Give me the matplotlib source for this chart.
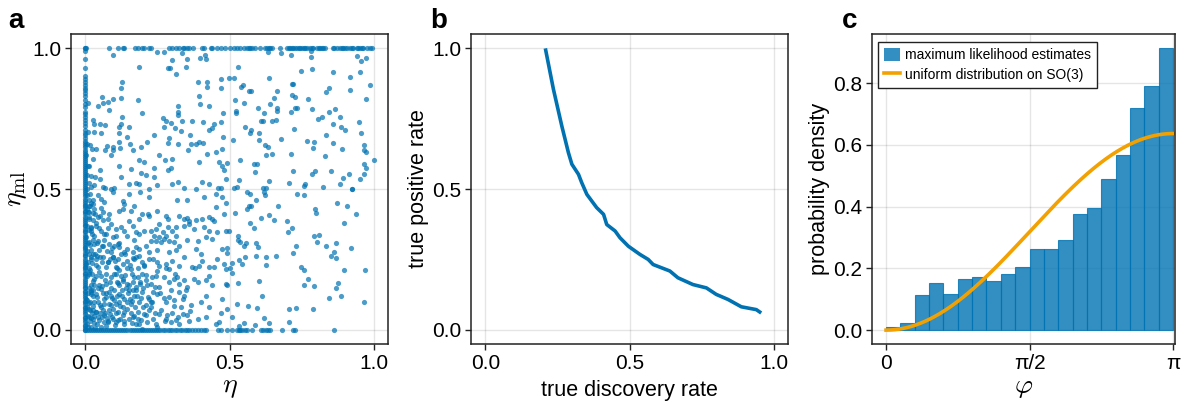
import numpy as np
import matplotlib.pyplot as plt
from matplotlib.patches import Patch
from matplotlib.lines import Line2D

## =========================================================================
## Data

# panel a: points lying on eta = 0 (values of eta_ml)
strip_ml = [0.0, 0.006, 0.013, 0.019, 0.027, 0.034, 0.041, 0.047, 0.056, 0.062, 0.07, 0.077,
            0.083, 0.091, 0.098, 0.104, 0.112, 0.119, 0.126, 0.133, 0.139, 0.147, 0.154, 0.161,
            0.168, 0.175, 0.182, 0.19, 0.197, 0.203, 0.211, 0.218, 0.224, 0.232, 0.239, 0.246,
            0.253, 0.261, 0.267, 0.274, 0.282, 0.289, 0.295, 0.303, 0.31, 0.317, 0.324, 0.331,
            0.338, 0.346, 0.352, 0.359, 0.367, 0.374, 0.381, 0.388, 0.395, 0.402, 0.41, 0.417,
            0.423, 0.431, 0.438, 0.445, 0.452, 0.459, 0.466, 0.474, 0.481, 0.488, 0.495, 0.503,
            0.51, 0.517, 0.524, 0.531, 0.538, 0.545, 0.553, 0.56, 0.567, 0.574, 0.582, 0.589,
            0.596, 0.603, 0.611, 0.618, 0.625, 0.632, 0.64, 0.648, 0.655, 0.662, 0.671, 0.68,
            0.69, 0.70, 0.71, 0.725, 0.735, 0.745, 0.755, 0.765, 0.775, 0.79, 0.80, 0.815, 0.83,
            0.84, 0.85, 0.86, 0.87, 0.88, 0.89, 0.9, 0.93, 0.96, 0.99, 1.0]

# panel a: points lying on eta_ml = 0 (values of eta)
bottom_eta = [0.0, 0.007, 0.013, 0.02, 0.027, 0.034, 0.041, 0.048, 0.055, 0.062, 0.069, 0.076,
              0.083, 0.09, 0.097, 0.104, 0.111, 0.118, 0.125, 0.132, 0.139, 0.146, 0.153, 0.16,
              0.167, 0.174, 0.181, 0.188, 0.195, 0.202, 0.209, 0.216, 0.223, 0.23, 0.237, 0.245,
              0.252, 0.26, 0.268, 0.276, 0.285, 0.293, 0.302, 0.31, 0.318, 0.327, 0.335, 0.344,
              0.352, 0.36, 0.37, 0.38, 0.39, 0.40, 0.41, 0.42, 0.46, 0.47, 0.491, 0.509, 0.526,
              0.532, 0.537, 0.543, 0.555, 0.561, 0.578, 0.61, 0.616, 0.627, 0.633, 0.639, 0.682,
              0.722, 0.728, 0.864]

# panel a: points lying on eta_ml = 1 (values of eta)
top_eta = [0.0, 0.002, 0.081, 0.112, 0.129, 0.135, 0.173, 0.181, 0.198, 0.204, 0.221, 0.227,
           0.291, 0.302, 0.314, 0.325, 0.337, 0.343, 0.354, 0.36, 0.375, 0.404, 0.412, 0.435,
           0.44, 0.458, 0.469, 0.484, 0.503, 0.514, 0.526, 0.537, 0.549, 0.56, 0.566, 0.572,
           0.578, 0.589, 0.607, 0.624, 0.63, 0.636, 0.641, 0.647, 0.674, 0.699, 0.705, 0.711,
           0.716, 0.722, 0.728, 0.734, 0.74, 0.745, 0.751, 0.757, 0.762, 0.768, 0.78, 0.786,
           0.791, 0.803, 0.809, 0.814, 0.82, 0.826, 0.832, 0.858, 0.863, 0.872, 0.884, 0.889,
           0.895, 0.901, 0.907, 0.918, 0.924, 0.93, 0.941, 0.947, 0.953, 0.959, 0.964, 0.976,
           0.988, 0.993]

# panel a: scattered (eta, eta_ml) pairs
upper_left = [(0.095, 0.976), (0.25, 0.985), (0.271, 0.985), (0.299, 0.958), (0.334, 0.981),
              (0.354, 0.963), (0.348, 0.932), (0.285, 0.928), (0.294, 0.928), (0.314, 0.908),
              (0.415, 0.975), (0.417, 0.961), (0.398, 0.965), (0.185, 0.934), (0.127, 0.879),
              (0.123, 0.859), (0.389, 0.881), (0.421, 0.879), (0.472, 0.89), (0.421, 0.861),
              (0.472, 0.857), (0.057, 0.828), (0.095, 0.82), (0.062, 0.804), (0.077, 0.808),
              (0.123, 0.823), (0.181, 0.816), (0.01, 0.804), (0.043, 0.793), (0.083, 0.781),
              (0.196, 0.77), (0.127, 0.757), (0.394, 0.829), (0.398, 0.8), (0.429, 0.796),
              (0.32, 0.793), (0.323, 0.775), (0.323, 0.763), (0.477, 0.77), (0.025, 0.746),
              (0.031, 0.731), (0.052, 0.731), (0.069, 0.726), (0.123, 0.731), (0.115, 0.72),
              (0.268, 0.751), (0.279, 0.74), (0.296, 0.734), (0.334, 0.74), (0.371, 0.743),
              (0.408, 0.737), (0.446, 0.729), (0.472, 0.737), (0.15, 0.72), (0.273, 0.72),
              (0.031, 0.704), (0.054, 0.698), (0.115, 0.698), (0.311, 0.716), (0.331, 0.706),
              (0.429, 0.708), (0.44, 0.716), (0.143, 0.684), (0.239, 0.69), (0.29, 0.681),
              (0.362, 0.693), (0.479, 0.684), (0.115, 0.667), (0.154, 0.661), (0.212, 0.666),
              (0.288, 0.664), (0.323, 0.658), (0.366, 0.658), (0.383, 0.658), (0.394, 0.667),
              (0.408, 0.663), (0.074, 0.654), (0.095, 0.649), (0.12, 0.645), (0.037, 0.643),
              (0.022, 0.642), (0.193, 0.649), (0.357, 0.637), (0.069, 0.637), (0.095, 0.637),
              (0.164, 0.637), (0.475, 0.643), (0.089, 0.62), (0.256, 0.622), (0.421, 0.625),
              (0.454, 0.631), (0.187, 0.602), (0.204, 0.596), (0.276, 0.604), (0.302, 0.605),
              (0.394, 0.596), (0.464, 0.596), (0.118, 0.583), (0.158, 0.572), (0.239, 0.575),
              (0.285, 0.567), (0.296, 0.575), (0.475, 0.581), (0.481, 0.567), (0.051, 0.567),
              (0.193, 0.557), (0.21, 0.549), (0.239, 0.543), (0.32, 0.525), (0.302, 0.516),
              (0.343, 0.502), (0.406, 0.525), (0.429, 0.519), (0.469, 0.505), (0.487, 0.537),
              (0.123, 0.541), (0.15, 0.519), (0.175, 0.522), (0.187, 0.519), (0.25, 0.514),
              (0.1, 0.502), (0.06, 0.508), (0.031, 0.514), (0.02, 0.545), (0.051, 0.534)]

upper_right = [(0.633, 0.985), (0.679, 0.981), (0.714, 0.976), (0.783, 0.988), (0.783, 0.967),
               (0.529, 0.934), (0.941, 0.971), (0.956, 0.955), (0.974, 0.965), (0.785, 0.926),
               (0.747, 0.918), (0.858, 0.914), (0.952, 0.916), (0.497, 0.893), (0.514, 0.893),
               (0.638, 0.893), (0.918, 0.896), (0.547, 0.869), (0.541, 0.861), (0.566, 0.849),
               (0.574, 0.849), (0.664, 0.846), (0.716, 0.873), (0.72, 0.873), (0.847, 0.857),
               (0.834, 0.843), (0.918, 0.853), (0.988, 0.869), (0.716, 0.834), (0.728, 0.826),
               (0.653, 0.822), (0.771, 0.82), (0.52, 0.816), (0.974, 0.82), (0.551, 0.804),
               (0.639, 0.8), (0.598, 0.788), (0.666, 0.788), (0.728, 0.788), (0.734, 0.788),
               (0.785, 0.784), (0.866, 0.784), (0.524, 0.777), (0.523, 0.77), (0.62, 0.77),
               (0.664, 0.778), (0.714, 0.775), (0.847, 0.775), (0.82, 0.755), (0.807, 0.747),
               (0.884, 0.754), (0.61, 0.743), (0.616, 0.743), (0.649, 0.741), (0.662, 0.746),
               (0.95, 0.737), (0.86, 0.729), (0.888, 0.721), (0.901, 0.711), (0.553, 0.719),
               (0.574, 0.711), (0.57, 0.7), (0.724, 0.714), (0.601, 0.7), (0.835, 0.69),
               (0.958, 0.698), (0.511, 0.673), (0.601, 0.675), (0.678, 0.678), (0.77, 0.671),
               (0.793, 0.667), (0.858, 0.662), (0.966, 0.657), (0.622, 0.657), (0.633, 0.649),
               (0.789, 0.645), (0.891, 0.642), (0.966, 0.637), (0.974, 0.631), (0.491, 0.592),
               (0.535, 0.604), (0.626, 0.62), (0.647, 0.623), (0.715, 0.623), (0.83, 0.616),
               (1.0, 0.604), (0.584, 0.587), (0.596, 0.587), (0.966, 0.587), (0.974, 0.576),
               (0.589, 0.561), (0.722, 0.564), (0.795, 0.564), (0.785, 0.552), (0.851, 0.564),
               (0.915, 0.552), (0.966, 0.555), (0.893, 0.539), (0.953, 0.536), (0.532, 0.531),
               (0.638, 0.529), (0.707, 0.522), (0.762, 0.516), (0.76, 0.512), (0.884, 0.519),
               (0.514, 0.502), (0.526, 0.508), (0.615, 0.502), (0.626, 0.502), (0.823, 0.508),
               (0.926, 0.501)]

lower_right = [(0.56, 0.488), (0.57, 0.482), (0.62, 0.491), (0.624, 0.479), (0.733, 0.482),
               (0.759, 0.479), (0.926, 0.499), (0.872, 0.452), (0.906, 0.441), (0.939, 0.411),
               (0.592, 0.461), (0.56, 0.429), (0.569, 0.438), (0.576, 0.438), (0.67, 0.438),
               (0.52, 0.415), (0.797, 0.429), (0.8, 0.415), (0.61, 0.396), (0.636, 0.407),
               (0.655, 0.39), (0.699, 0.385), (0.572, 0.378), (0.584, 0.36), (0.898, 0.378),
               (0.716, 0.362), (0.704, 0.349), (0.497, 0.352), (0.529, 0.334), (0.528, 0.32),
               (0.537, 0.311), (0.551, 0.296), (0.557, 0.307), (0.593, 0.309), (0.599, 0.293),
               (0.794, 0.332), (0.812, 0.338), (0.805, 0.313), (0.869, 0.309), (0.834, 0.297),
               (0.922, 0.29), (0.731, 0.299), (0.491, 0.29), (0.491, 0.273), (0.72, 0.272),
               (0.861, 0.276), (0.851, 0.261), (0.869, 0.254), (0.555, 0.26), (0.593, 0.261),
               (0.626, 0.258), (0.661, 0.261), (0.532, 0.249), (0.543, 0.234), (0.51, 0.237),
               (0.626, 0.231), (0.501, 0.219), (0.747, 0.223), (0.759, 0.214), (0.898, 0.211),
               (0.97, 0.214), (0.509, 0.201), (0.771, 0.179), (0.759, 0.16), (0.794, 0.155),
               (0.875, 0.166), (0.87, 0.15), (0.491, 0.161), (0.53, 0.166), (0.604, 0.172),
               (0.613, 0.119), (0.847, 0.114), (0.887, 0.119), (0.966, 0.099), (0.526, 0.093),
               (0.564, 0.085), (0.597, 0.079), (0.705, 0.075), (0.731, 0.078), (0.789, 0.073),
               (0.491, 0.075), (0.51, 0.046), (0.618, 0.042), (0.708, 0.028), (0.638, 0.026),
               (0.549, 0.025), (0.532, 0.014), (0.587, 0.016)]

lower_left = [(0.016, 0.482), (0.025, 0.461), (0.054, 0.464), (0.069, 0.505), (0.089, 0.499),
              (0.095, 0.488), (0.129, 0.458), (0.135, 0.446), (0.15, 0.484), (0.19, 0.489),
              (0.219, 0.472), (0.221, 0.499), (0.319, 0.461), (0.354, 0.461), (0.383, 0.499),
              (0.412, 0.472), (0.452, 0.484), (0.461, 0.505), (0.473, 0.472), (0.487, 0.452),
              (0.014, 0.44), (0.031, 0.429), (0.054, 0.432), (0.06, 0.417), (0.083, 0.411),
              (0.118, 0.423), (0.129, 0.429), (0.158, 0.423), (0.17, 0.44), (0.196, 0.413),
              (0.216, 0.411), (0.221, 0.405), (0.247, 0.423), (0.279, 0.405), (0.288, 0.393),
              (0.325, 0.405), (0.343, 0.393), (0.354, 0.397), (0.36, 0.388), (0.383, 0.39),
              (0.406, 0.393), (0.429, 0.399), (0.441, 0.393), (0.446, 0.388), (0.481, 0.411),
              (0.452, 0.435), (0.014, 0.393), (0.043, 0.399), (0.077, 0.393), (0.152, 0.388),
              (0.187, 0.393), (0.02, 0.364), (0.037, 0.37), (0.054, 0.352), (0.089, 0.376),
              (0.106, 0.358), (0.123, 0.364), (0.135, 0.352), (0.164, 0.37), (0.175, 0.346),
              (0.204, 0.352), (0.227, 0.352), (0.245, 0.358), (0.256, 0.376), (0.268, 0.346),
              (0.285, 0.364), (0.302, 0.352), (0.314, 0.366), (0.343, 0.37), (0.36, 0.376),
              (0.377, 0.358), (0.412, 0.364), (0.429, 0.352), (0.458, 0.346), (0.487, 0.352),
              (0.031, 0.335), (0.072, 0.34), (0.106, 0.335), (0.146, 0.335), (0.187, 0.34),
              (0.239, 0.335), (0.256, 0.329), (0.279, 0.335), (0.314, 0.335), (0.014, 0.311),
              (0.043, 0.317), (0.06, 0.299), (0.083, 0.305), (0.1, 0.299), (0.112, 0.305),
              (0.118, 0.293), (0.146, 0.287), (0.175, 0.293), (0.187, 0.287), (0.21, 0.299),
              (0.227, 0.317), (0.245, 0.317), (0.262, 0.311), (0.273, 0.323), (0.291, 0.317),
              (0.308, 0.311), (0.325, 0.299), (0.354, 0.319), (0.389, 0.317), (0.418, 0.329),
              (0.441, 0.323), (0.475, 0.287), (0.383, 0.287), (0.314, 0.282), (0.048, 0.282),
              (0.089, 0.276), (0.135, 0.276), (0.164, 0.276), (0.221, 0.276), (0.25, 0.282),
              (0.291, 0.276), (0.02, 0.258), (0.037, 0.252), (0.06, 0.258), (0.077, 0.24),
              (0.095, 0.258), (0.112, 0.252), (0.129, 0.234), (0.146, 0.246), (0.17, 0.252),
              (0.187, 0.264), (0.204, 0.228), (0.221, 0.252), (0.233, 0.252), (0.25, 0.24),
              (0.256, 0.228), (0.279, 0.234), (0.302, 0.246), (0.325, 0.228), (0.343, 0.258),
              (0.371, 0.223), (0.394, 0.228), (0.406, 0.246), (0.429, 0.223), (0.458, 0.252),
              (0.481, 0.234), (0.487, 0.217), (0.043, 0.223), (0.106, 0.223), (0.158, 0.217),
              (0.291, 0.217), (0.446, 0.223), (0.014, 0.199), (0.031, 0.181), (0.054, 0.193),
              (0.072, 0.164), (0.089, 0.187), (0.106, 0.199), (0.129, 0.181), (0.146, 0.164),
              (0.164, 0.17), (0.181, 0.187), (0.198, 0.199), (0.21, 0.176), (0.227, 0.164),
              (0.245, 0.193), (0.273, 0.187), (0.291, 0.17), (0.308, 0.181), (0.319, 0.187),
              (0.325, 0.164), (0.343, 0.176), (0.354, 0.152), (0.377, 0.181), (0.389, 0.17),
              (0.429, 0.193), (0.418, 0.176), (0.487, 0.164), (0.048, 0.158), (0.118, 0.158),
              (0.175, 0.152), (0.256, 0.152), (0.02, 0.14), (0.037, 0.128), (0.054, 0.146),
              (0.072, 0.117), (0.083, 0.134), (0.1, 0.105), (0.118, 0.128), (0.135, 0.111),
              (0.152, 0.14), (0.17, 0.122), (0.187, 0.099), (0.198, 0.134), (0.216, 0.117),
              (0.227, 0.099), (0.25, 0.128), (0.279, 0.099), (0.291, 0.117), (0.308, 0.105),
              (0.325, 0.134), (0.337, 0.111), (0.366, 0.087), (0.4, 0.099), (0.418, 0.122),
              (0.475, 0.111), (0.031, 0.099), (0.066, 0.093), (0.106, 0.093), (0.158, 0.093),
              (0.21, 0.087), (0.014, 0.075), (0.037, 0.064), (0.054, 0.081), (0.066, 0.052),
              (0.083, 0.069), (0.095, 0.04), (0.112, 0.064), (0.129, 0.052), (0.146, 0.075),
              (0.164, 0.046), (0.181, 0.064), (0.193, 0.034), (0.21, 0.052), (0.221, 0.069),
              (0.233, 0.04), (0.256, 0.058), (0.279, 0.04), (0.296, 0.028), (0.314, 0.034),
              (0.337, 0.058), (0.354, 0.052), (0.389, 0.04), (0.418, 0.046), (0.452, 0.022),
              (0.464, 0.028), (0.025, 0.04), (0.048, 0.034), (0.077, 0.028), (0.106, 0.028),
              (0.135, 0.022), (0.175, 0.022), (0.245, 0.022), (0.325, 0.022)]

near_strip = [(0.005, 0.02), (0.01, 0.05), (0.004, 0.08), (0.015, 0.1), (0.008, 0.13), (0.02, 0.16),
              (0.006, 0.19), (0.012, 0.22), (0.018, 0.25), (0.004, 0.28), (0.01, 0.31), (0.022, 0.34),
              (0.007, 0.37), (0.014, 0.4), (0.005, 0.43), (0.011, 0.46), (0.017, 0.03), (0.024, 0.06),
              (0.003, 0.11), (0.027, 0.12), (0.013, 0.15), (0.023, 0.2), (0.009, 0.24), (0.026, 0.27),
              (0.016, 0.3), (0.003, 0.33), (0.019, 0.36), (0.028, 0.39), (0.008, 0.42), (0.021, 0.45),
              (0.006, 0.48), (0.012, 0.52), (0.004, 0.55), (0.009, 0.58), (0.003, 0.62), (0.007, 0.66),
              (0.02, 0.01), (0.029, 0.025), (0.013, 0.045), (0.026, 0.085), (0.007, 0.105),
              (0.018, 0.135), (0.028, 0.175), (0.011, 0.205), (0.003, 0.235), (0.021, 0.285),
              (0.028, 0.32), (0.012, 0.355), (0.025, 0.415), (0.016, 0.44), (0.004, 0.5),
              (0.015, 0.07), (0.04, 0.02), (0.05, 0.06), (0.065, 0.11), (0.045, 0.15), (0.07, 0.2),
              (0.058, 0.24), (0.035, 0.27), (0.08, 0.03), (0.09, 0.09), (0.1, 0.14), (0.085, 0.17),
              (0.11, 0.22), (0.095, 0.26), (0.12, 0.04), (0.13, 0.08), (0.14, 0.15), (0.125, 0.19),
              (0.155, 0.11), (0.16, 0.2), (0.17, 0.05), (0.18, 0.12), (0.19, 0.17), (0.2, 0.08),
              (0.205, 0.23), (0.04, 0.31), (0.065, 0.34), (0.075, 0.28), (0.115, 0.31), (0.03, 0.05),
              (0.055, 0.01), (0.06, 0.13), (0.038, 0.19), (0.048, 0.36), (0.033, 0.41), (0.042, 0.1),
              (0.068, 0.06), (0.078, 0.24), (0.088, 0.12), (0.105, 0.06), (0.115, 0.1), (0.135, 0.03),
              (0.145, 0.22), (0.15, 0.04), (0.165, 0.14), (0.175, 0.26), (0.185, 0.02), (0.098, 0.2),
              (0.052, 0.26), (0.028, 0.14), (0.036, 0.23), (0.062, 0.39), (0.072, 0.015),
              (0.092, 0.045), (0.108, 0.17), (0.128, 0.12), (0.138, 0.27), (0.158, 0.06),
              (0.168, 0.32), (0.195, 0.005), (0.215, 0.16), (0.23, 0.1), (0.24, 0.06), (0.26, 0.13),
              (0.275, 0.03), (0.28, 0.22), (0.3, 0.06), (0.31, 0.2), (0.33, 0.08), (0.35, 0.14),
              (0.36, 0.03), (0.38, 0.22), (0.4, 0.27), (0.43, 0.08), (0.44, 0.16), (0.47, 0.06)]

# panel a: the densest corner (small eta, small eta_ml)
dense_corner = [(0.009, 0.012), (0.019, 0.043), (0.033, 0.008), (0.044, 0.047), (0.027, 0.072),
                (0.052, 0.088), (0.011, 0.094), (0.039, 0.118), (0.064, 0.027), (0.075, 0.043),
                (0.021, 0.126), (0.058, 0.156), (0.031, 0.161), (0.046, 0.205), (0.017, 0.212),
                (0.069, 0.178), (0.081, 0.092), (0.093, 0.113), (0.062, 0.072), (0.086, 0.055),
                (0.103, 0.017), (0.114, 0.036), (0.097, 0.073), (0.121, 0.085), (0.134, 0.063),
                (0.143, 0.098), (0.126, 0.142), (0.109, 0.121), (0.151, 0.158), (0.163, 0.101),
                (0.172, 0.083), (0.184, 0.037), (0.177, 0.141), (0.192, 0.112), (0.203, 0.058),
                (0.214, 0.028), (0.226, 0.081), (0.236, 0.133), (0.249, 0.011), (0.262, 0.072),
                (0.024, 0.238), (0.041, 0.262), (0.057, 0.296), (0.073, 0.224), (0.084, 0.251),
                (0.013, 0.271), (0.029, 0.305), (0.066, 0.318), (0.092, 0.292), (0.118, 0.214),
                (0.137, 0.196), (0.153, 0.232), (0.101, 0.246), (0.124, 0.268), (0.166, 0.254),
                (0.182, 0.221), (0.196, 0.241), (0.211, 0.196), (0.231, 0.186), (0.247, 0.208),
                (0.018, 0.352), (0.036, 0.381), (0.051, 0.404), (0.079, 0.361), (0.096, 0.331),
                (0.011, 0.418), (0.027, 0.447), (0.044, 0.478), (0.063, 0.455), (0.019, 0.506),
                (0.034, 0.542), (0.012, 0.583), (0.026, 0.605), (0.015, 0.656), (0.009, 0.701),
                (0.038, 0.064), (0.058, 0.045), (0.071, 0.131), (0.089, 0.149), (0.112, 0.165),
                (0.131, 0.175), (0.147, 0.131), (0.161, 0.024), (0.168, 0.188), (0.188, 0.162),
                (0.201, 0.147), (0.219, 0.108), (0.242, 0.152), (0.271, 0.115), (0.284, 0.054),
                (0.297, 0.143), (0.306, 0.084), (0.322, 0.047), (0.341, 0.122), (0.363, 0.068)]

# panel b: true positive rate versus true discovery rate
tdr = [0.208, 0.236, 0.265, 0.288, 0.30, 0.323, 0.334, 0.352, 0.386, 0.41, 0.421, 0.45, 0.467,
       0.496, 0.536, 0.565, 0.582, 0.64, 0.668, 0.72, 0.767, 0.801, 0.842, 0.888, 0.94, 0.957]
tpr = [0.999, 0.854, 0.724, 0.629, 0.588, 0.552, 0.523, 0.481, 0.434, 0.41, 0.374, 0.351, 0.327,
       0.297, 0.268, 0.25, 0.232, 0.209, 0.185, 0.161, 0.149, 0.126, 0.108, 0.082, 0.072, 0.06]

# panel c: histogram of angles (20 bins on [0, pi])
hist_density = [0.011, 0.024, 0.114, 0.152, 0.118, 0.166, 0.173, 0.160, 0.183, 0.205,
                0.263, 0.263, 0.293, 0.377, 0.396, 0.490, 0.568, 0.720, 0.792, 0.915]

## =========================================================================
## Plot

BLUE = '#0072B2'
ORANGE = '#F2A100'
TICK_FS = 15
LABEL_FS = 15.5
MATH_FS = 20

plt.rcParams['font.family'] = ['Liberation Sans', 'DejaVu Sans']
plt.rcParams['mathtext.fontset'] = 'cm'

fig = plt.figure(figsize=(11.89, 4.05), dpi=100)
W, H = 1189.0, 405.0


def make_axes(left, right, top, bottom):
    ax = fig.add_axes([left / W, 1 - bottom / H, (right - left) / W, (bottom - top) / H])
    ax.grid(True, color='black', alpha=0.1, linewidth=1)
    ax.set_axisbelow(True)
    for s in ax.spines.values():
        s.set_linewidth(1.1)
        s.set_color('#222222')
    ax.tick_params(direction='out', length=4, width=1, labelsize=TICK_FS, pad=3, color='#222222')
    return ax


# ---- panel a
axa = make_axes(71, 388, 34, 344)
pts = np.array(upper_left + upper_right + lower_right + lower_left + near_strip + dense_corner)
eta = np.concatenate([np.zeros(len(strip_ml)), bottom_eta, top_eta, pts[:, 0]])
eta_ml = np.concatenate([strip_ml, np.zeros(len(bottom_eta)), np.ones(len(top_eta)), pts[:, 1]])
axa.scatter(eta, eta_ml, s=14, color=BLUE, alpha=0.7, linewidths=0)
axa.set_xlim(-0.05, 1.05)
axa.set_ylim(-0.05, 1.05)
axa.set_xticks([0, 0.5, 1.0])
axa.set_yticks([0, 0.5, 1.0])
axa.set_xticklabels(['0.0', '0.5', '1.0'])
axa.set_yticklabels(['0.0', '0.5', '1.0'])
axa.set_xlabel(r'$\eta$', fontsize=MATH_FS, labelpad=1)
axa.set_ylabel(r'$\eta_{\mathrm{ml}}$', fontsize=MATH_FS, labelpad=2)

# ---- panel b
axb = make_axes(471, 788, 34, 344)
axb.plot(tdr, tpr, color=BLUE, linewidth=2.6, solid_capstyle='butt')
axb.set_xlim(-0.05, 1.05)
axb.set_ylim(-0.05, 1.05)
axb.set_xticks([0, 0.5, 1.0])
axb.set_yticks([0, 0.5, 1.0])
axb.set_xticklabels(['0.0', '0.5', '1.0'])
axb.set_yticklabels(['0.0', '0.5', '1.0'])
axb.set_xlabel('true discovery rate', fontsize=LABEL_FS, labelpad=5)
axb.set_ylabel('true positive rate', fontsize=LABEL_FS, labelpad=2)

# ---- panel c
axc = make_axes(872, 1175, 34, 344)
edges = np.linspace(0, np.pi, len(hist_density) + 1)
axc.bar(edges[:-1], hist_density, width=np.diff(edges), align='edge',
        color=BLUE, alpha=0.8, edgecolor=BLUE, linewidth=0.8)
phi = np.linspace(0, np.pi, 200)
axc.plot(phi, (1 - np.cos(phi)) / np.pi, color=ORANGE, linewidth=2.6)
axc.set_xlim(-0.049 * np.pi, 1.007 * np.pi)
axc.set_ylim(-0.045, 0.959)
axc.set_xticks([0, np.pi / 2, np.pi])
axc.set_xticklabels(['0', 'π/2', 'π'])
axc.set_yticks([0, 0.2, 0.4, 0.6, 0.8])
axc.set_yticklabels(['0.0', '0.2', '0.4', '0.6', '0.8'])
axc.set_xlabel(r'$\varphi$', fontsize=MATH_FS, labelpad=1)
axc.set_ylabel('probability density', fontsize=LABEL_FS, labelpad=2)
handles = [Patch(facecolor=BLUE, alpha=0.8, edgecolor='none', label='maximum likelihood estimates'),
           Line2D([], [], color=ORANGE, linewidth=2.6, label='uniform distribution on SO(3)')]
leg = axc.legend(handles=handles, loc='upper left', bbox_to_anchor=(0.02, 0.975),
                 fontsize=10, frameon=True, fancybox=False, framealpha=1,
                 handlelength=1.1, handleheight=1.1, handletextpad=0.4,
                 borderpad=0.45, labelspacing=0.35, borderaxespad=0)
leg.get_frame().set_edgecolor('#222222')
leg.get_frame().set_linewidth(1)

# ---- panel letters
for x, letter in [(8, 'a'), (430, 'b'), (842, 'c')]:
    fig.text(x / W, 1 - 28 / H, letter, fontsize=20, fontweight='bold', va='baseline')

fig.savefig('out.png', dpi=100)
